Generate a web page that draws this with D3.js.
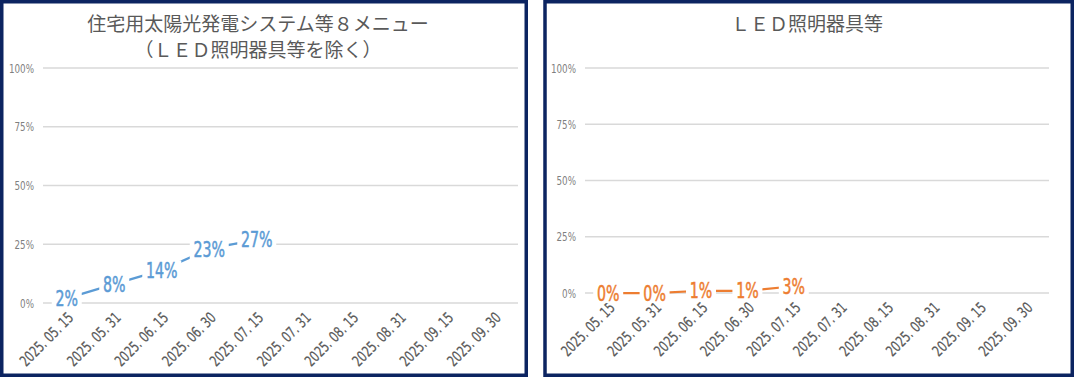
<!DOCTYPE html>
<html>
<head>
<meta charset="utf-8">
<script src="https://cdn.jsdelivr.net/npm/d3@7"></script>
<style>
  body { margin: 0; background: #fff; }
  svg { display: block; }
</style>
</head>
<body>
<script>
// dates on the x axis (same for both charts)
let dates = ["2025. 05. 15","2025. 05. 31","2025. 06. 15","2025. 06. 30","2025. 07. 15",
             "2025. 07. 31","2025. 08. 15","2025. 08. 31","2025. 09. 15","2025. 09. 30"];
let yTicks = [0, 25, 50, 75, 100];

// values in percent, only the first five dates have data
let solarValues = [2, 8, 14, 23, 27];
let ledValues = [0, 0, 1, 1, 3];

let solarTitle = ["住宅用太陽光発電システム等８メニュー", "（ＬＥＤ照明器具等を除く）"];
let ledTitle = ["ＬＥＤ照明器具等"];

let narrow = "'DejaVu Sans Condensed','DejaVu Sans',sans-serif";
let cjk = "'Noto Sans CJK JP','Noto Sans',sans-serif";

let svg = d3.select("body").append("svg").attr("width", 1074).attr("height", 378);

function drawChart(opt) {
  let g = svg.append("g");

  // frame
  g.append("rect")
    .attr("x", opt.fx).attr("y", 1.75)
    .attr("width", opt.fw).attr("height", 373.5)
    .attr("fill", "#fff")
    .attr("stroke", "#0c2461")
    .attr("stroke-width", 3.5);

  let x = d3.scaleBand().domain(dates).range([opt.x0, opt.x1]);
  let y = d3.scaleLinear().domain([0, 100]).range([opt.y0, opt.y1]);

  // title
  g.append("text")
    .attr("x", opt.tx).attr("y", 31)
    .attr("text-anchor", "middle")
    .attr("font-family", cjk)
    .attr("font-size", 19)
    .attr("fill", "#595959")
    .selectAll("tspan")
    .data(opt.title)
    .enter().append("tspan")
      .attr("x", opt.tx)
      .attr("dy", (d, i) => i == 0 ? 0 : 26)
      .text(d => d);

  // gridlines
  g.selectAll("line.grid")
    .data(yTicks)
    .enter().append("line")
      .attr("class", "grid")
      .attr("x1", opt.x0).attr("x2", opt.x1)
      .attr("y1", d => y(d)).attr("y2", d => y(d))
      .attr("stroke", "#d9d9d9")
      .attr("stroke-width", 1.5);

  // y labels
  g.selectAll("text.ylab")
    .data(yTicks)
    .enter().append("text")
      .attr("class", "ylab")
      .attr("transform", d => "translate(" + (opt.x0 - 9) + "," + y(d) + ") scale(0.75,1)")
      .attr("dy", "0.35em")
      .attr("text-anchor", "end")
      .attr("font-family", narrow)
      .attr("font-size", 13)
      .attr("fill", "#7f7f7f")
      .text(d => d + "%");

  // x labels
  g.selectAll("text.xlab")
    .data(dates)
    .enter().append("text")
      .attr("class", "xlab")
      .attr("transform", d => "translate(" + (x(d) + x.bandwidth() / 2 + 4) + "," + (opt.y0 + 12) + ") rotate(-45) scale(0.8,1)")
      .attr("dy", "0.35em")
      .attr("text-anchor", "end")
      .attr("font-family", narrow)
      .attr("font-size", 15)
      .attr("fill", "#595959")
      .attr("stroke", "#595959")
      .attr("stroke-width", 0.2)
      .text(d => d);

  let pts = opt.values.map((v, i) => [x(dates[i]) + x.bandwidth() / 2, y(v)]);

  // line
  g.append("path")
    .attr("d", d3.line()(pts))
    .attr("fill", "none")
    .attr("stroke", opt.color)
    .attr("stroke-width", 2.25);

  // data labels with white box
  let lab = g.selectAll("g.lab")
    .data(opt.values)
    .enter().append("g")
      .attr("class", "lab")
      .attr("transform", (d, i) => "translate(" + pts[i][0] + "," + pts[i][1] + ") scale(0.75,1)");

  lab.append("text")
    .attr("text-anchor", "middle")
    .attr("dy", "0.36em")
    .attr("font-family", narrow)
    .attr("font-size", 21)
    .attr("fill", opt.color)
    .attr("stroke", opt.color)
    .attr("stroke-width", 0.5)
    .text(d => d + "%");

  lab.each(function() {
    let t = d3.select(this).select("text");
    let b = t.node().getBBox();
    d3.select(this).insert("rect", "text")
      .attr("x", b.x - 5).attr("y", b.y + 2)
      .attr("width", b.width + 10).attr("height", b.height - 4)
      .attr("fill", "#fff");
  });
}

drawChart({ fx: 1.75, fw: 524.5, x0: 43, x1: 518, y0: 303, y1: 68, tx: 258,
            title: solarTitle, values: solarValues, color: "#5b9bd5" });
drawChart({ fx: 545, fw: 527.25, x0: 585, x1: 1049, y0: 293, y1: 68, tx: 807,
            title: ledTitle, values: ledValues, color: "#ed7d31" });
</script>
</body>
</html>
